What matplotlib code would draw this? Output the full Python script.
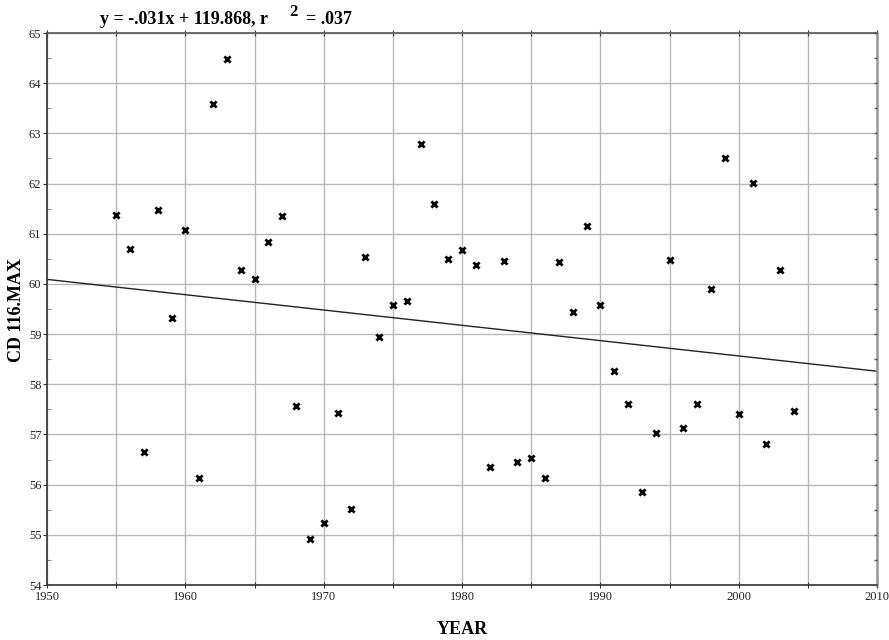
import numpy as np
import matplotlib
matplotlib.use("Agg")
import matplotlib.pyplot as plt

years = [1955, 1956, 1957, 1958, 1959, 1960, 1961, 1962, 1963, 1964,
         1965, 1966, 1967, 1968, 1969, 1970, 1971, 1972, 1973, 1974,
         1975, 1976, 1977, 1978, 1979, 1980, 1981, 1982, 1983, 1984,
         1985, 1986, 1987, 1988, 1989, 1990, 1991, 1992, 1993, 1994,
         1995, 1996, 1997, 1998, 1999, 2000, 2001, 2002, 2003, 2004]
values = [61.37, 60.69, 56.66, 61.47, 59.32, 61.07, 56.13, 63.59, 64.48, 60.27,
          60.10, 60.84, 61.35, 57.56, 54.91, 55.23, 57.43, 55.52, 60.54, 58.95,
          59.58, 59.66, 62.79, 61.59, 60.50, 60.67, 60.38, 56.36, 60.46, 56.46,
          56.53, 56.13, 60.44, 59.45, 61.16, 59.57, 58.27, 57.60, 55.85, 57.03,
          60.48, 57.12, 57.60, 59.89, 62.50, 57.40, 62.01, 56.81, 60.27, 57.47]

title_main = "y = -.031x + 119.868, r"
title_sup = "2"
title_end = "= .037"
xlabel = "YEAR"
ylabel = "CD 116.MAX"
xticks_major = [1950, 1960, 1970, 1980, 1990, 2000, 2010]
yticks_major = list(range(54, 66))

plt.rcParams['font.family'] = ['Liberation Serif', 'DejaVu Serif']

fig = plt.figure(figsize=(8.89, 6.4), dpi=100)
ax = fig.add_axes([47/889, 1 - 585/640, (877-47)/889, (585-33)/640])

ax.set_xlim(1950, 2010)
ax.set_ylim(54, 65)

ax.set_xticks(xticks_major)
ax.set_xticks(np.arange(1955, 2010, 10), minor=True)
ax.set_yticks(yticks_major)
ax.set_yticks(np.arange(54.5, 65, 1.0), minor=True)
ax.grid(True, which='both', axis='x', color='#b8b8b8', lw=1.0)
ax.grid(True, which='major', axis='y', color='#b8b8b8', lw=1.0)
ax.set_axisbelow(True)

ax.tick_params(axis='both', which='both', labelsize=9, width=0.8,
               colors='#333333', labelcolor='#222222')
ax.tick_params(axis='x', which='both', top=True, direction='inout', length=4, pad=2.5)
ax.tick_params(axis='y', which='major', direction='out', length=3, pad=1)
ax.tick_params(axis='y', which='minor', direction='in', length=3, colors='#888888')

for s in ['left', 'bottom']:
    ax.spines[s].set_color('#333333')
    ax.spines[s].set_linewidth(1.2)
ax.spines['top'].set_color('#555555')
ax.spines['top'].set_linewidth(1.2)
ax.spines['right'].set_color('#999999')
ax.spines['right'].set_linewidth(1.8)

# right-side ticks at every half unit
ax2 = ax.twinx()
ax2.set_ylim(54, 65)
ax2.set_yticks(np.arange(54, 65.01, 0.5))
ax2.tick_params(axis='y', length=2.5, width=1.0, colors='#555555', labelright=False,
                direction='in')
for s in ax2.spines.values():
    s.set_visible(False)

ax.scatter(years, values, marker='x', s=20, linewidths=2.0, color='black', zorder=3)

coef = np.polyfit(years, values, 1)
xl = np.array([1950, 2010])
ax.plot(xl, np.polyval(coef, xl), color='#222222', lw=1.0, zorder=2)

fig.text(100/889, 1 - 19/640, title_main, fontsize=13, fontweight='bold', va='center', ha='left')
fig.text(289/889, 1 - 12/640, title_sup, fontsize=12, fontweight='bold', va='center', ha='left')
fig.text(306/889, 1 - 19/640, title_end, fontsize=13, fontweight='bold', va='center', ha='left')

fig.text(462/889, 1 - 629/640, xlabel, fontsize=13, fontweight='bold', ha='center', va='center')
fig.text(17/889, 1 - 310/640, ylabel, fontsize=13, fontweight='bold', ha='center', va='center',
         rotation=90)

fig.savefig("out.png", dpi=100)
